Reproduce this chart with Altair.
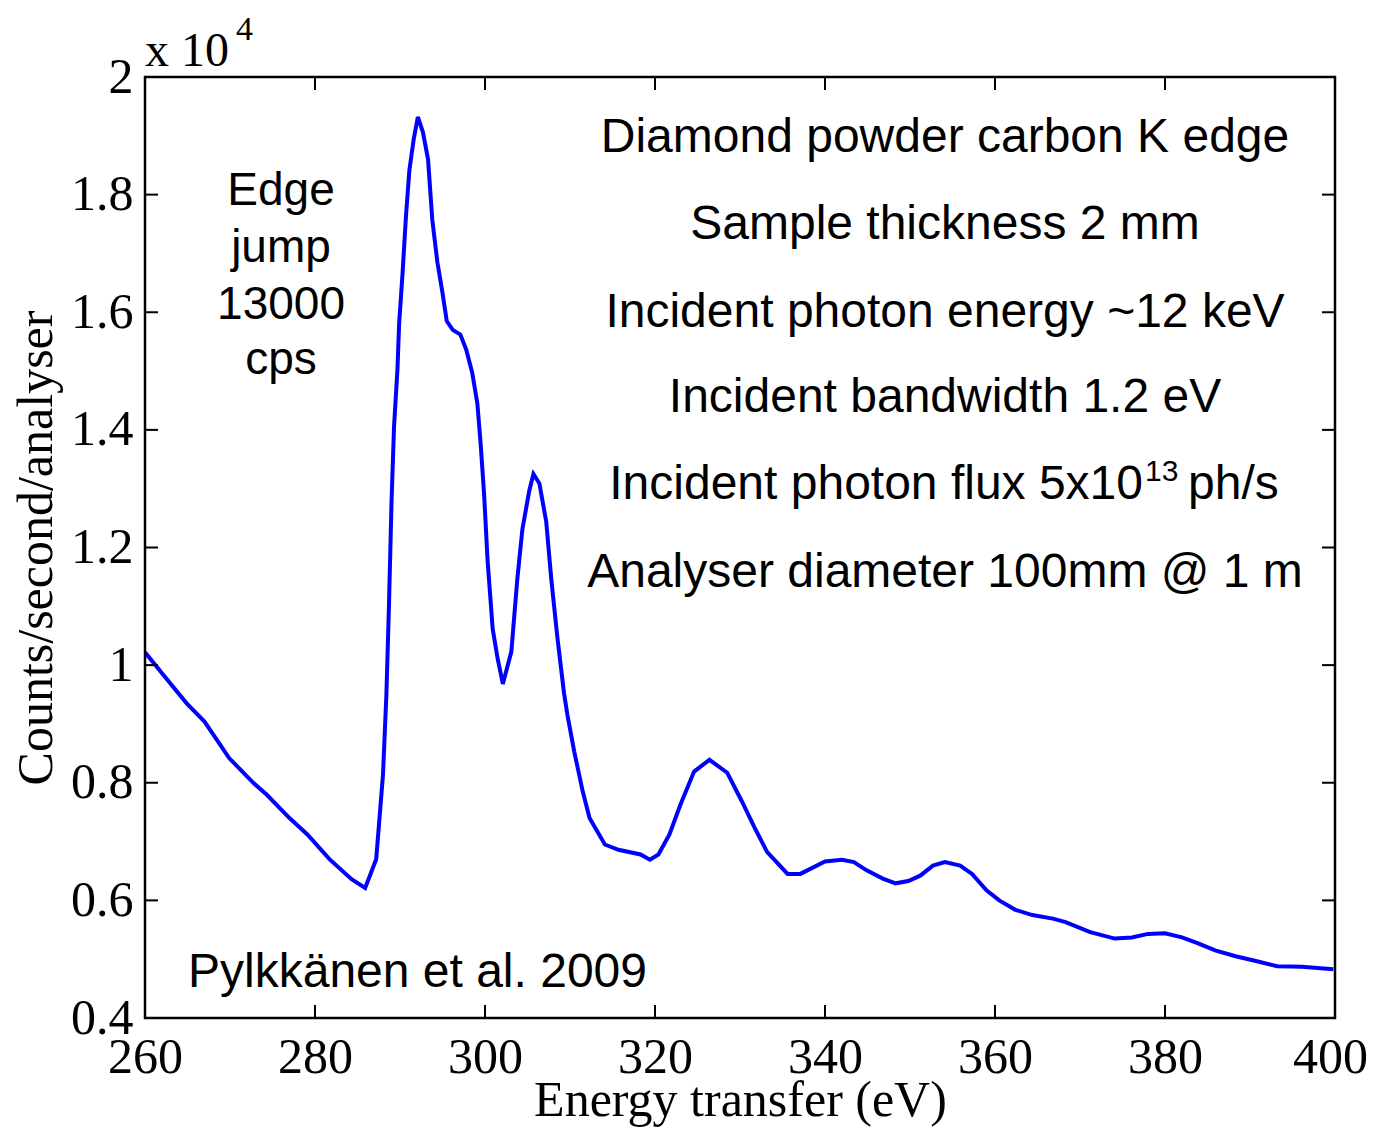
import altair as alt
import pandas as pd

energy = [260.0, 262.0, 264.9, 267.0, 269.9, 272.8, 274.3, 277.0, 279.1, 281.7, 284.3, 285.9,
          287.2, 288.0, 288.4, 288.7, 289.0, 289.3, 289.7, 289.9, 290.3, 290.7, 291.1, 291.6,
          292.1, 292.7, 293.3, 293.8, 294.4, 295.0, 295.5, 296.2, 297.1, 297.8, 298.5, 299.1,
          299.5, 299.9, 300.3, 300.9, 301.5, 302.1, 303.1, 303.8, 304.4, 305.2, 305.7, 306.4,
          307.2, 307.8, 308.5, 309.3, 309.7, 310.5, 311.5, 312.3, 314.1, 315.7, 318.3, 319.4,
          320.4, 321.7, 323.0, 324.6, 326.4, 328.5, 330.2, 331.7, 333.2, 335.6, 337.1, 340.0,
          342.0, 343.4, 344.9, 346.8, 348.3, 349.8, 351.2, 352.7, 354.1, 355.9, 357.3, 359.0,
          360.5, 362.4, 364.4, 366.8, 368.3, 371.2, 374.1, 376.1, 378.0, 380.0, 382.0, 383.9,
          385.9, 388.3, 390.7, 393.2, 396.1, 399.8]
counts = [1.022, 0.986, 0.935, 0.904, 0.842, 0.799, 0.780, 0.740, 0.712, 0.670, 0.636, 0.621,
          0.670, 0.814, 0.950, 1.100, 1.276, 1.406, 1.503, 1.581, 1.666, 1.763, 1.841, 1.893,
          1.932, 1.906, 1.860, 1.757, 1.685, 1.633, 1.585, 1.570, 1.562, 1.536, 1.497, 1.445,
          1.374, 1.289, 1.179, 1.062, 1.010, 0.968, 1.023, 1.146, 1.231, 1.296, 1.325, 1.309,
          1.244, 1.146, 1.049, 0.952, 0.915, 0.853, 0.785, 0.740, 0.695, 0.686, 0.678, 0.669,
          0.678, 0.712, 0.763, 0.819, 0.839, 0.817, 0.769, 0.724, 0.682, 0.645, 0.645, 0.666,
          0.669, 0.665, 0.651, 0.637, 0.629, 0.633, 0.642, 0.659, 0.665, 0.659, 0.645, 0.617,
          0.600, 0.584, 0.575, 0.569, 0.563, 0.546, 0.535, 0.537, 0.543, 0.544, 0.537, 0.527,
          0.515, 0.505, 0.497, 0.488, 0.487, 0.483]

x_ticks = [260, 280, 300, 320, 340, 360, 380, 400]
y_ticks = [0.4, 0.6, 0.8, 1.0, 1.2, 1.4, 1.6, 1.8, 2.0]

info_lines = ["Diamond powder carbon K edge", "Sample thickness 2 mm",
              "Incident photon energy ~12 keV", "Incident bandwidth 1.2 eV",
              None, "Analyser diameter 100mm @ 1 m"]
edge_lines = ["Edge", "jump", "13000", "cps"]

W, H = 1190, 941
L, T = 145, 77
SERIF = "Liberation Serif"
SANS = "Liberation Sans"
TICK = 13

df = pd.DataFrame({"energy": energy, "counts": counts})
xs = alt.Scale(domain=[260, 400], nice=False)
ys = alt.Scale(domain=[0.4, 2.0], nice=False)

line = alt.Chart(df).mark_line(color="#0000ff", strokeWidth=4, clip=True).encode(
    x=alt.X("energy:Q", scale=xs,
            axis=alt.Axis(values=x_ticks, title="Energy transfer (eV)", grid=False, ticks=False,
                          domain=False, labelFont=SERIF, labelFontSize=50, labelColor="black",
                          labelPadding=14, titleFont=SERIF, titleFontSize=50,
                          titleFontWeight="normal", titleColor="black", titlePadding=-7,
                          labelFlush=False,
                          labelOffset={"expr": "datum.value == 400 ? -5 : 0"})),
    y=alt.Y("counts:Q", scale=ys,
            axis=alt.Axis(values=y_ticks, title="Counts/second/analyser", grid=False, ticks=False,
                          domain=False, format="~g", labelFont=SERIF, labelFontSize=50,
                          labelColor="black", labelPadding=12, titleFont=SERIF,
                          titleFontSize=50, titleFontWeight="normal", titleColor="black",
                          titlePadding=9, labelFlush=False)),
)

xt = pd.DataFrame({"v": x_ticks})
yt = pd.DataFrame({"v": y_ticks})
tick_style = dict(color="black", strokeWidth=2)
xb = alt.Chart(xt).mark_rule(**tick_style).encode(
    x=alt.X("v:Q", scale=xs), y=alt.value(H), y2=alt.value(H - TICK))
xtop = alt.Chart(xt).mark_rule(**tick_style).encode(
    x=alt.X("v:Q", scale=xs), y=alt.value(0), y2=alt.value(TICK))
yl = alt.Chart(yt).mark_rule(**tick_style).encode(
    y=alt.Y("v:Q", scale=ys), x=alt.value(0), x2=alt.value(TICK))
yr = alt.Chart(yt).mark_rule(**tick_style).encode(
    y=alt.Y("v:Q", scale=ys), x=alt.value(W), x2=alt.value(W - TICK))

box = alt.Chart(pd.DataFrame({"a": [0]})).mark_rect(
    fillOpacity=0, stroke="black", strokeWidth=2.5).encode(
    x=alt.value(0), x2=alt.value(W), y=alt.value(0), y2=alt.value(H))


def label(text, px, py, size, align="center", font=SANS):
    return alt.Chart(pd.DataFrame({"t": [text]})).mark_text(
        font=font, fontSize=size, align=align, baseline="alphabetic", color="black").encode(
        x=alt.value(px - L), y=alt.value(py - T), text="t:N")


texts = []
info_base = [152, 239, 327, 412, 499, 587]
for s, b in zip(info_lines, info_base):
    if s:
        texts.append(label(s, 945, b, 48))
texts.append(label("Incident photon flux 5x10", 1143, 499, 48, align="right"))
texts.append(label("13", 1145, 481, 30, align="left"))
texts.append(label("ph/s", 1188, 499, 48, align="left"))

edge_base = [205, 262, 319, 374]
for s, b in zip(edge_lines, edge_base):
    texts.append(label(s, 281, b, 46))

texts.append(label("Pylkkänen et al. 2009", 188, 987, 48, align="left"))
texts.append(label("x 10", 145, 66, 48, align="left", font=SERIF))
texts.append(label("4", 236, 40, 34, align="left", font=SERIF))

chart = alt.layer(line, xb, xtop, yl, yr, box, *texts).properties(
    width=W, height=H,
    autosize=alt.AutoSizeParams(type="none"),
    padding={"left": 137, "top": 69, "right": 31, "bottom": 109},
).configure_view(strokeWidth=0).configure(background="white")

chart.save("out.html", embed_options={"renderer": "svg", "actions": False})
